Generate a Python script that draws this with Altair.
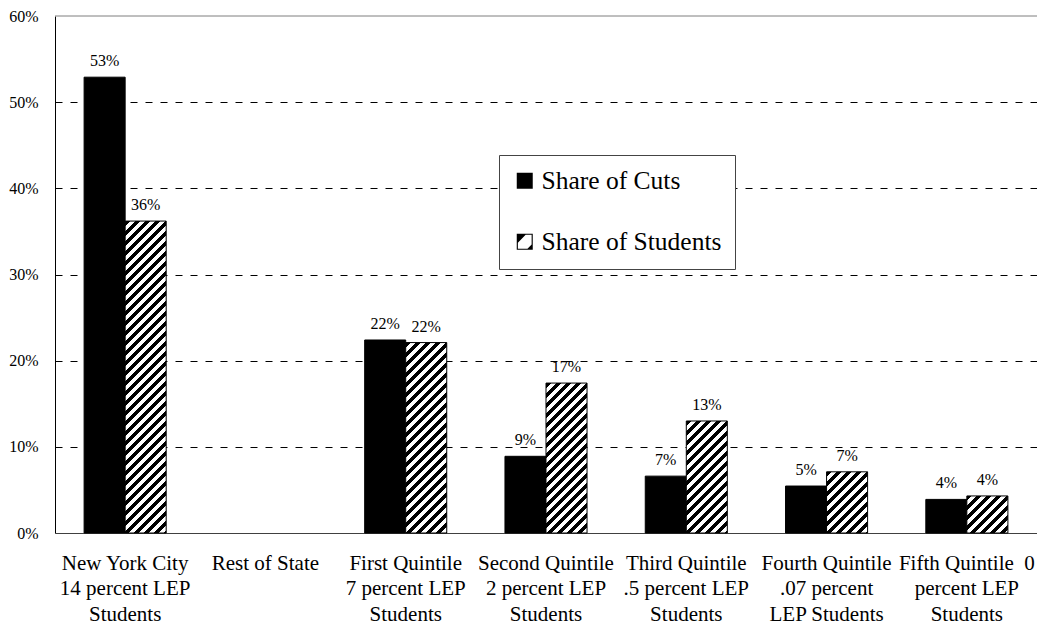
import altair as alt
import pandas as pd

categories = [
    "New York City\n14 percent LEP\nStudents",
    "Rest of State",
    "First Quintile\n7 percent LEP\nStudents",
    "Second Quintile\n2 percent LEP\nStudents",
    "Third Quintile\n.5 percent LEP\nStudents",
    "Fourth Quintile\n.07 percent\nLEP Students",
    "Fifth Quintile\u00a0 0\npercent LEP\nStudents",
]
series_names = ["Share of Cuts", "Share of Students"]
share_of_cuts = [52.9, None, 22.4, 8.9, 6.6, 5.45, 3.9]
share_of_students = [36.2, None, 22.1, 17.4, 13.0, 7.1, 4.3]
y_ticks = [0, 10, 20, 30, 40, 50, 60]

FONT = "Liberation Serif"
W, H = 982, 517
PAD_INNER = 0.415

rows = []
for c, a, b in zip(categories, share_of_cuts, share_of_students):
    rows.append({"category": c, "series": series_names[0], "value": a})
    rows.append({"category": c, "series": series_names[1], "value": b})
df = pd.DataFrame(rows)


def stripe_fill(value, period=10.0, frac=0.5):
    # diagonal "/" hatch in bar bounding-box units
    step = W / len(categories)
    w = step * (1 - PAD_INNER) / 2
    h = value / 60.0 * H
    L = w + h
    d = w * w + h * h
    stops = []
    k = 0
    while k * period < L:
        a = k * period / L
        b = min((k * period + period * frac) / L, 1.0)
        c = min((k + 1) * period / L, 1.0)
        stops += [
            alt.GradientStop(offset=a, color="black"),
            alt.GradientStop(offset=b, color="black"),
            alt.GradientStop(offset=b, color="white"),
            alt.GradientStop(offset=c, color="white"),
        ]
        k += 1
    return alt.LinearGradient(gradient="linear", stops=stops, x1=0, y1=0,
                              x2=w * L / d, y2=h * L / d)


square_path = "M-1,-1H1V1H-1Z"
hatch_path = ("M-1,-1H1V1H-1Z "
              "M0.11,-0.86L-0.86,0.11L-0.86,0.86L0.34,0.86L0.86,0.34L0.86,-0.86Z")

y_scale = alt.Scale(domain=[0, 60], nice=False)
y_axis = alt.Axis(
    title=None, values=y_ticks, labelExpr="datum.value + '%'",
    labelFont=FONT, labelFontSize=16, labelColor="black", labelPadding=17,
    ticks=False, domainColor="black", domainWidth=1,
    grid=True, gridColor="black", gridDash=[7, 8], gridWidth=1,
    gridOpacity={"condition": {"test": "datum.value === 0 || datum.value === 60", "value": 0}, "value": 1},
)
x_axis = alt.Axis(
    title=None, labelAngle=0, labelExpr="split(datum.label, '\\n')",
    labelFont=FONT, labelFontSize=21, labelColor="black", labelLineHeight=25.5,
    labelPadding=19, labelBaseline="top", labelLimit=400, ticks=False,
    domainColor="#404040", domainWidth=1, grid=False,
)

base = alt.Chart(df).encode(
    x=alt.X("category:N", scale=alt.Scale(domain=categories, paddingInner=PAD_INNER,
                                          paddingOuter=PAD_INNER / 2), axis=x_axis),
    xOffset=alt.XOffset("series:N", scale=alt.Scale(domain=series_names, paddingInner=0, paddingOuter=0)),
    y=alt.Y("value:Q", scale=y_scale, axis=y_axis),
)

cuts_layer = base.transform_filter(
    f"datum.series === '{series_names[0]}' && isValid(datum.value)"
).mark_bar(fill="black", stroke="black", strokeWidth=1)

student_layers = []
for c, v in zip(categories, share_of_students):
    if v is None:
        continue
    student_layers.append(
        base.transform_filter(
            alt.FieldEqualPredicate(field="category", equal=c)
        ).transform_filter(
            f"datum.series === '{series_names[1]}'"
        ).mark_bar(fill=stripe_fill(v), stroke="black", strokeWidth=1)
    )

legend_spec = dict(
    orient="none", legendX=444, legendY=139, title=None,
    symbolSize=256, symbolStrokeWidth=0, symbolOpacity=1,
    labelFont=FONT, labelFontSize=25.5, labelColor="black", labelOffset=4,
    labelLimit=400, rowPadding=34, padding=13,
    strokeColor="#444444", fillColor="white",
)
legend_layer = base.transform_filter("false").mark_point(filled=True).encode(
    color=alt.Color("series:N", scale=alt.Scale(domain=series_names, range=["black", "black"]),
                    legend=alt.Legend(**legend_spec)),
    shape=alt.Shape("series:N", scale=alt.Scale(domain=series_names, range=[square_path, hatch_path]),
                    legend=alt.Legend(**legend_spec)),
)

labels = base.transform_filter("isValid(datum.value)").transform_calculate(
    label="format(datum.value, '.0f') + '%'"
).mark_text(font=FONT, fontSize=16, color="black", baseline="alphabetic", dy=-11).encode(
    text="label:N"
)

top_line = alt.Chart(pd.DataFrame({"value": [60]})).mark_rule(
    color="#7f7f7f", strokeWidth=1
).encode(
    y=alt.Y("value:Q", scale=y_scale, axis=y_axis),
    x=alt.value(0), x2=alt.value(W),
)

chart = alt.layer(cuts_layer, *student_layers, labels, top_line, legend_layer).properties(
    width=W, height=H,
    autosize=alt.AutoSizeParams(type="none"),
    padding={"left": 47, "top": 8, "right": 0, "bottom": 92},
    background="white",
).configure_view(stroke=None)

chart.save("out.html", embed_options={"renderer": "svg", "actions": False})
